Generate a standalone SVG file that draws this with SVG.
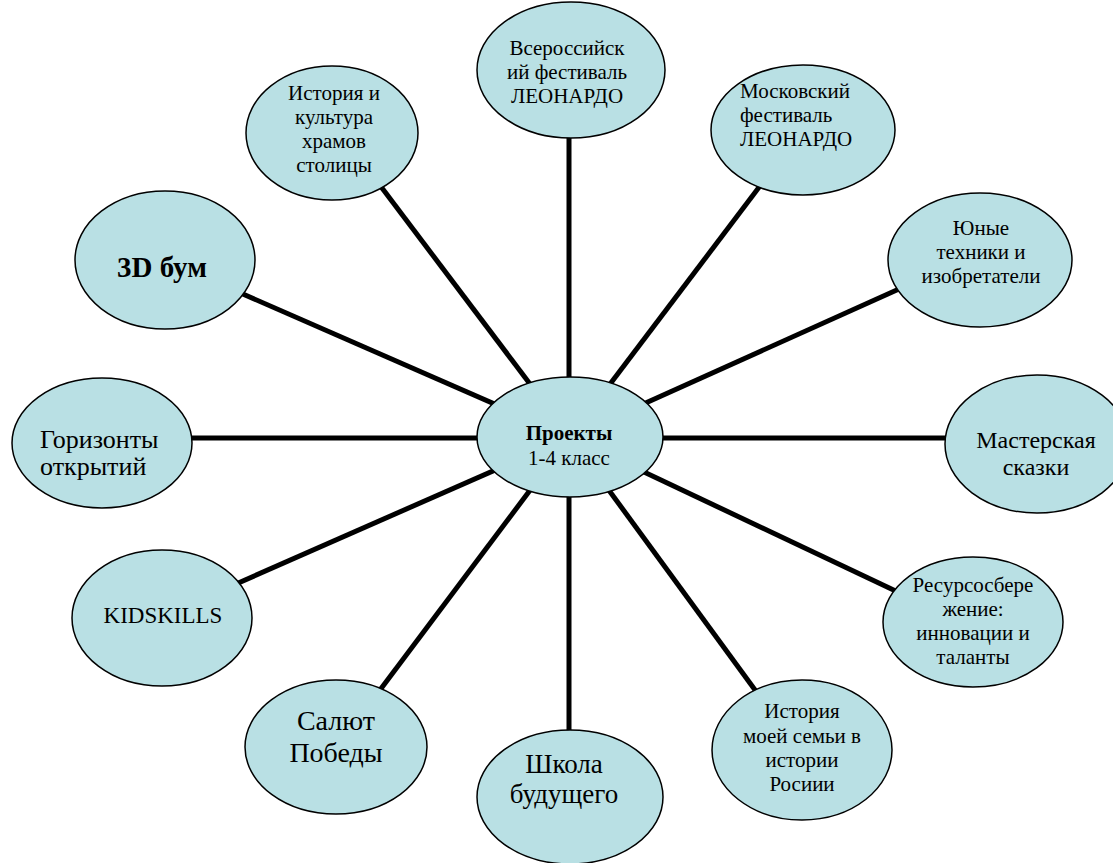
<svg xmlns="http://www.w3.org/2000/svg" width="1113" height="863" viewBox="0 0 1113 863">
<style>
.n ellipse{fill:#b9e0e4;stroke:#000;stroke-width:1.5}
text{font-family:"Liberation Serif","Times New Roman",serif;fill:#000;text-anchor:middle}
text.l{text-anchor:start}
.s{font-size:21px}
.c line{stroke:#000;stroke-width:5}
</style>
<rect width="1113" height="863" fill="#fff"/>
<g class="c" id="connectors">
<line x1="569" y1="437" x2="569" y2="130"/>
<line x1="570" y1="437" x2="379" y2="184"/>
<line x1="570" y1="437" x2="763" y2="182"/>
<line x1="570" y1="437" x2="899" y2="289"/>
<line x1="570" y1="438" x2="955" y2="438"/>
<line x1="570" y1="437" x2="902" y2="594"/>
<line x1="570" y1="437" x2="766" y2="705"/>
<line x1="569" y1="437" x2="569" y2="740"/>
<line x1="570" y1="437" x2="374" y2="698"/>
<line x1="570" y1="437" x2="236" y2="584"/>
<line x1="570" y1="438" x2="185" y2="438"/>
<line x1="570" y1="437" x2="236" y2="291"/>
</g>
<g class="n" id="center">
<ellipse cx="570" cy="437" rx="93" ry="60"/>
<text x="569" y="440" font-size="21" font-weight="bold">Проекты</text>
<text x="569" y="465" font-size="21">1-4 класс</text>
</g>
<g class="n" id="n-vseros">
<ellipse cx="571" cy="70" rx="94" ry="68"/>
<text class="s" x="567" y="55">Всероссийск</text>
<text class="s" x="567" y="79">ий фестиваль</text>
<text class="s" x="567" y="103">ЛЕОНАРДО</text>
</g>
<g class="n" id="n-hram">
<ellipse cx="332" cy="133" rx="86" ry="67"/>
<text class="s" x="334" y="100">История и</text>
<text class="s" x="334" y="124">культура</text>
<text class="s" x="334" y="148">храмов</text>
<text class="s" x="334" y="172">столицы</text>
</g>
<g class="n" id="n-mosk">
<ellipse cx="803" cy="130" rx="92" ry="65"/>
<text class="s l" x="740" y="98">Московский</text>
<text class="s l" x="740" y="122">фестиваль</text>
<text class="s l" x="740" y="146">ЛЕОНАРДО</text>
</g>
<g class="n" id="n-yunye">
<ellipse cx="980" cy="260" rx="92" ry="67"/>
<text class="s" x="981" y="235">Юные</text>
<text class="s" x="981" y="259">техники и</text>
<text class="s" x="981" y="283">изобретатели</text>
</g>
<g class="n" id="n-master">
<ellipse cx="1037" cy="444" rx="92" ry="69"/>
<text x="1036" y="448" font-size="24">Мастерская</text>
<text x="1036" y="475" font-size="24">сказки</text>
</g>
<g class="n" id="n-resurs">
<ellipse cx="973" cy="622" rx="90" ry="65"/>
<text class="s" x="973" y="592">Ресурсосбере</text>
<text class="s" x="973" y="616">жение:</text>
<text class="s" x="973" y="640">инновации и</text>
<text class="s" x="973" y="664">таланты</text>
</g>
<g class="n" id="n-semya">
<ellipse cx="802" cy="750" rx="90" ry="70"/>
<text class="s" x="802" y="718">История</text>
<text class="s" x="802" y="743">моей семьи в</text>
<text class="s" x="802" y="767">истории</text>
<text class="s" x="802" y="791">Росиии</text>
</g>
<g class="n" id="n-shkola">
<ellipse cx="570" cy="797" rx="93" ry="67"/>
<text x="564" y="773" font-size="27">Школа</text>
<text x="564" y="803" font-size="27">будущего</text>
</g>
<g class="n" id="n-salut">
<ellipse cx="336" cy="747" rx="91" ry="67"/>
<text x="336" y="730" font-size="28">Салют</text>
<text x="336" y="762" font-size="28">Победы</text>
</g>
<g class="n" id="n-kids">
<ellipse cx="162" cy="618" rx="90" ry="68"/>
<text x="163" y="623" font-size="23">KIDSKILLS</text>
</g>
<g class="n" id="n-gorizont">
<ellipse cx="102" cy="443" rx="90" ry="65"/>
<text class="l" x="40" y="448" font-size="26">Горизонты</text>
<text class="l" x="40" y="475" font-size="26">открытий</text>
</g>
<g class="n" id="n-3d">
<ellipse cx="165" cy="260" rx="90" ry="69"/>
<text x="162" y="277" font-size="29" font-weight="bold">3D бум</text>
</g>
</svg>
